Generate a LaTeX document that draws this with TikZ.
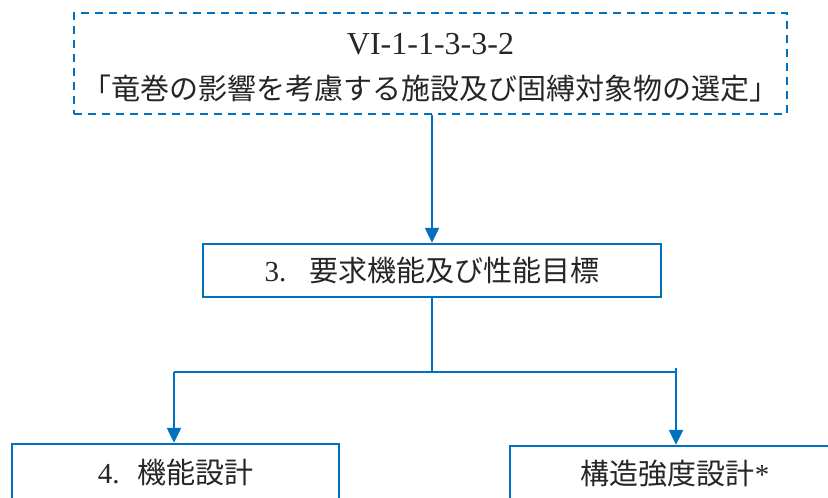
\documentclass[tikz,border=0pt]{standalone}
\usepackage{fontspec}
\setmainfont{Liberation Serif}
\newfontfamily\jp{Noto Sans CJK JP}
\usetikzlibrary{arrows.meta}
\definecolor{lineblue}{HTML}{0070C0}
\definecolor{txt}{HTML}{262626}
\begin{document}
\begin{tikzpicture}[x=1pt,y=-1pt,
  box/.style={draw=lineblue,line width=2.5pt,fill=white,inner sep=0pt,text=txt,
    font=\fontsize{29}{43}\selectfont,align=center},
  dbox/.style={box,dash pattern=on 8pt off 6pt},
  conn/.style={draw=lineblue,line width=2.5pt},
  arr/.style={conn,-{Triangle[width=14pt,length=15pt]}}]
\useasboundingbox (0,0) rectangle (828,498);
\clip (0,0) rectangle (828,498);
\fill[white] (0,0) rectangle (828,498);

\node[dbox,minimum width=713pt,minimum height=101pt] (src) at (430.5,63.5)
  {\raisebox{-11pt}[0pt][0pt]{\begin{tabular}{@{}c@{}}{\fontsize{32}{43}\selectfont VI-1-1-3-3-2}\\[2pt]
   {\fontsize{29}{43}\selectfont\jp 「竜巻の影響を考慮する施設及び固縛対象物の選定」}\end{tabular}}};
\node[box,minimum width=458pt,minimum height=53pt] (req) at (432,270.5)
  {3.\hspace{0.8em}{\jp 要求機能及び性能目標}};
\node[box,minimum width=327pt,minimum height=56pt] (func) at (175.5,472)
  {4.\hspace{0.6em}{\jp 機能設計}};
\node[box,minimum width=330pt,minimum height=56pt] (str) at (675,474)
  {{\jp 構造強度設計}*};

\coordinate (j) at (432,372);
\coordinate (jl) at (174,372);
\coordinate (jr) at (676,372);
\coordinate (jrt) at (676,368);

\draw[arr] (src.south -| req.north) -- (req.north);
\draw[conn] (req.south) -- (j);
\draw[conn] (jl) -- (jr);
\draw[arr] (jl) -- (jl |- func.north);
\draw[arr] (jrt) -- (jr |- str.north);
\end{tikzpicture}
\end{document}
